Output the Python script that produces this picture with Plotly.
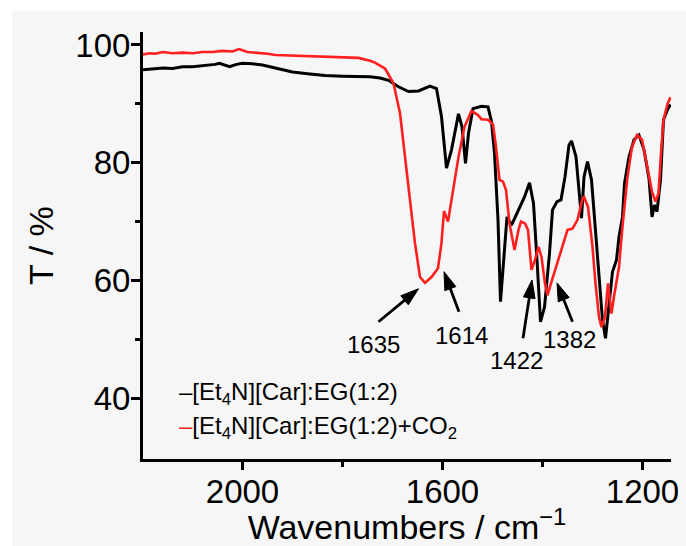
import plotly.graph_objects as go

# ---------------- data ----------------
black_x = [2199, 2185, 2170, 2159, 2140, 2120, 2100, 2075, 2055, 2046, 2035, 2026, 2012, 2000,
           1980, 1960, 1930, 1900, 1870, 1835, 1800, 1768, 1745, 1725, 1708, 1688, 1668, 1648,
           1635, 1625, 1612, 1602, 1592, 1582, 1568, 1561, 1554, 1548, 1539, 1522, 1509, 1502,
           1496, 1489, 1484, 1477, 1471, 1462, 1446, 1436, 1426, 1418, 1411, 1404, 1396, 1386,
           1380, 1371, 1363, 1355, 1347, 1342, 1333, 1327, 1322, 1317, 1310, 1302, 1296, 1287,
           1280, 1274, 1267, 1260, 1252, 1247, 1240, 1236, 1227, 1217, 1207, 1197, 1187, 1181,
           1176, 1171, 1164, 1158, 1150, 1144]
black_y = [95.8, 95.9, 96.0, 96.1, 96.0, 96.3, 96.3, 96.5, 96.7, 96.9, 96.6, 96.3, 96.7, 96.9,
           96.8, 96.6, 96.0, 95.4, 95.1, 94.8, 94.7, 94.6, 94.6, 94.4, 94.0, 92.9, 92.1, 92.2,
           92.6, 93.0, 92.6, 87.8, 79.1, 82.2, 88.3, 86.1, 79.9, 85.0, 89.2, 89.6, 89.5, 87.0,
           81.6, 70.3, 56.4, 63.5, 70.8, 69.4, 72.3, 74.2, 76.6, 73.1, 63.5, 53.0, 55.5, 64.6,
           72.0, 73.4, 73.7, 77.6, 83.0, 83.7, 81.0, 74.8, 70.6, 77.6, 80.2, 77.1, 70.3, 60.1,
           53.3, 50.2, 55.5, 61.5, 63.5, 67.4, 70.8, 76.5, 81.0, 83.9, 84.7, 82.2, 77.3, 70.8,
           72.8, 71.7, 77.1, 87.3, 89.0, 89.9]

red_x = [2199, 2185, 2175, 2159, 2140, 2120, 2100, 2080, 2060, 2040, 2020, 2007, 1990, 1970,
         1950, 1934, 1900, 1870, 1834, 1800, 1768, 1745, 1735, 1715, 1698, 1685, 1675, 1665,
         1655, 1645, 1635, 1622, 1609, 1602, 1597, 1589, 1579, 1568, 1556, 1542, 1529, 1522,
         1509, 1499, 1493, 1486, 1479, 1473, 1466, 1456, 1448, 1443, 1435, 1429, 1422, 1415,
         1408, 1402, 1395, 1390, 1383, 1373, 1360, 1350, 1340, 1330, 1320, 1317, 1309, 1300,
         1294, 1287, 1282, 1275, 1269, 1262, 1257, 1247, 1240, 1230, 1221, 1211, 1201, 1191,
         1181, 1174, 1168, 1163, 1158, 1150, 1144]
red_y = [98.4, 98.6, 98.5, 98.8, 98.6, 98.7, 98.6, 98.8, 98.8, 99.0, 98.9, 99.3, 98.8, 98.7,
         98.5, 98.3, 98.2, 98.0, 97.9, 97.9, 97.8, 97.3, 97.0, 96.0, 93.5, 88.4, 81.0, 73.7,
         66.3, 60.6, 59.6, 60.6, 62.1, 66.4, 71.8, 70.0, 75.4, 81.0, 86.1, 88.8, 88.1, 87.4,
         87.3, 86.5, 82.7, 77.1, 76.8, 75.4, 69.7, 65.2, 68.6, 70.0, 69.7, 68.6, 61.8, 63.5,
         65.7, 64.0, 59.5, 57.5, 59.5, 62.3, 65.7, 68.6, 68.8, 70.3, 73.9, 74.2, 72.5, 65.7,
         59.5, 53.8, 52.1, 53.8, 59.5, 54.4, 57.3, 62.3, 69.2, 77.6, 82.7, 84.7, 83.9, 79.3,
         75.1, 73.4, 74.8, 81.6, 87.3, 90.0, 91.1]

series_names = ["[Et<sub>4</sub>N][Car]:EG(1:2)", "[Et<sub>4</sub>N][Car]:EG(1:2)+CO<sub>2</sub>"]

peak_labels = ["1635", "1614", "1422", "1382"]
label_x = [1739, 1562, 1453, 1347]
label_y = [49.1, 50.6, 46.4, 50.0]
arrow_head_x = [1648, 1597, 1421, 1371]
arrow_head_y = [58.6, 61.5, 60.1, 59.6]
arrow_tail_x = [1728, 1567, 1439, 1340]
arrow_tail_y = [53.0, 54.7, 50.2, 53.0]

legend_x = 2132
legend_rows_y = [40.9, 35.1]

x_range = [2199, 1143]
y_range = [29.7, 102.2]
x_major = [2000, 1600, 1200]
x_minor = [1800, 1400]
y_major = [40, 60, 80, 100]
y_minor = [50, 70, 90]

# ---------------- figure ----------------
FONT = "Liberation Sans, Arial, sans-serif"
RED = "#ff1f1f"
W, H = 686, 546
ML, MR, MT, MB = 143, 15, 32, 87

fig = go.Figure()
fig.add_trace(go.Scatter(x=black_x, y=black_y, mode="lines",
                         line=dict(color="black", width=3), name=series_names[0],
                         showlegend=False, hoverinfo="skip"))
fig.add_trace(go.Scatter(x=red_x, y=red_y, mode="lines",
                         line=dict(color=RED, width=2.6), name=series_names[1],
                         showlegend=False, hoverinfo="skip"))

# arrows pointing at the peaks
for hx, hy, tx, ty in zip(arrow_head_x, arrow_head_y, arrow_tail_x, arrow_tail_y):
    fig.add_trace(go.Scatter(x=[tx, hx], y=[ty, hy], mode="lines+markers",
                             line=dict(color="black", width=2.8),
                             marker=dict(symbol="arrow", angleref="previous",
                                         size=[0, 19], color="black", opacity=1,
                                         line=dict(width=1, color="black")),
                             showlegend=False, hoverinfo="skip"))

annotations = []
for t, lx, ly in zip(peak_labels, label_x, label_y):
    annotations.append(dict(x=lx, y=ly, xref="x", yref="y", text=t, showarrow=False,
                            font=dict(family=FONT, size=24, color="black")))

legend_colors = ["black", RED]
for name, col, ly in zip(series_names, legend_colors, legend_rows_y):
    annotations.append(dict(x=legend_x, y=ly, xref="x", yref="y", xanchor="left",
                            text='<span style="color:%s">–</span>%s' % (col, name),
                            showarrow=False, font=dict(family=FONT, size=24, color="black")))

pw = W - ML - MR
ph = H - MT - MB
shapes = [
    dict(type="rect", xref="paper", yref="paper", x0=-ML / pw, x1=(12 - ML) / pw,
         y0=-MB / ph, y1=1 + MT / ph, fillcolor="white", line=dict(width=0), layer="below"),
    dict(type="rect", xref="paper", yref="paper", x0=-ML / pw, x1=1 + MR / pw,
         y0=1 + (MT - 11) / ph, y1=1 + MT / ph, fillcolor="white", line=dict(width=0),
         layer="below"),
]

fig.update_layout(
    width=W, height=H,
    margin=dict(l=ML, r=MR, t=MT, b=MB),
    paper_bgcolor="#f6f6f6", plot_bgcolor="#f6f6f6",
    font=dict(family=FONT, color="black"),
    annotations=annotations, shapes=shapes,
    xaxis=dict(range=x_range, showgrid=False, zeroline=False, automargin=False,
               showline=True, linecolor="black", linewidth=3,
               ticks="outside", ticklen=8, tickwidth=2.5, tickcolor="black",
               tickvals=x_major, ticklabelstandoff=-7,
               tickfont=dict(family=FONT, size=33),
               minor=dict(tickvals=x_minor, ticks="outside", ticklen=5,
                          tickwidth=2.5, tickcolor="black"),
               title=dict(text="Wavenumbers / cm<sup>−1</sup>",
                          font=dict(family=FONT, size=34), standoff=2)),
    yaxis=dict(range=y_range, showgrid=False, zeroline=False, automargin=False,
               showline=True, linecolor="black", linewidth=3,
               ticks="outside", ticklen=9, tickwidth=2.5, tickcolor="black",
               tickvals=y_major, ticklabelstandoff=-6,
               tickfont=dict(family=FONT, size=33),
               minor=dict(tickvals=y_minor, ticks="outside", ticklen=5,
                          tickwidth=2.5, tickcolor="black"),
               title=dict(text="T / %", font=dict(family=FONT, size=34), standoff=12)),
)

fig.write_html("out.html", config={"displayModeBar": False},
               post_script="document.body.style.margin='0';")
